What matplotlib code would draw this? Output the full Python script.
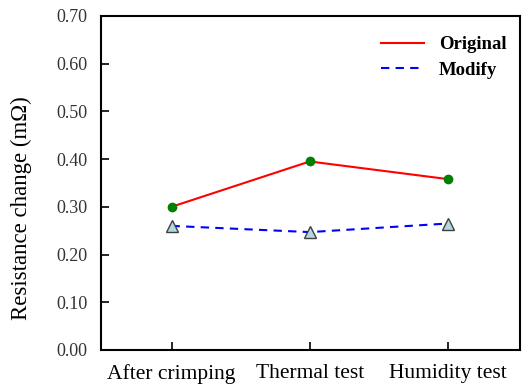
import matplotlib
matplotlib.use('Agg')
import matplotlib.pyplot as plt
from matplotlib.lines import Line2D

# data
categories = ['After crimping', 'Thermal test', 'Humidity test']
original = [0.300, 0.395, 0.358]
modify = [0.260, 0.247, 0.265]
yticks = [0.0, 0.1, 0.2, 0.3, 0.4, 0.5, 0.6, 0.7]

plt.rcParams['font.family'] = ['Liberation Serif', 'DejaVu Serif']

fig = plt.figure(figsize=(5.32, 3.88), dpi=100)
ax = fig.add_axes([0.190, 0.098, 0.787, 0.861])

x = list(range(len(categories)))
ax.plot(x, original, color='red', lw=1.5, marker='o', markersize=6,
        markerfacecolor='green', markeredgecolor='green', label='Original')
ax.plot(x, modify, color='blue', lw=1.5, ls=(0, (4, 3)), marker='^', markersize=8,
        markerfacecolor='#b4d8e0', markeredgecolor='#404040', markeredgewidth=1,
        label='Modify')

ax.set_xlim(-0.51, 2.52)
ax.set_ylim(0, 0.7)
ax.set_xticks(x)
ax.set_xticklabels(categories, fontsize=15.5)
ax.set_yticks(yticks)
ax.set_yticklabels(['%.2f' % v for v in yticks], fontsize=13, color='#333333')
ax.tick_params(direction='in', length=6, width=1.2)
ax.tick_params(axis='x', pad=10)
ax.tick_params(axis='y', pad=10)
for s in ax.spines.values():
    s.set_linewidth(1.5)

# label sits a bit below the axis centre in the reference
ax.set_ylabel('Resistance change (m\u03a9)', fontsize=16.5)
ax.yaxis.set_label_coords(-0.164, 0.425)

# legend: plain handles without markers
handles = [Line2D([], [], color='red', lw=1.5),
           Line2D([], [], color='blue', lw=1.5, ls=(0, (4, 3)))]
leg = ax.legend(handles, ['Original', 'Modify'], loc='upper right', frameon=False,
                prop={'weight': 'bold', 'size': 13.5}, handlelength=2.3,
                bbox_to_anchor=(1.009, 0.99), labelspacing=0.45)

fig.savefig('out.png', dpi=100)
